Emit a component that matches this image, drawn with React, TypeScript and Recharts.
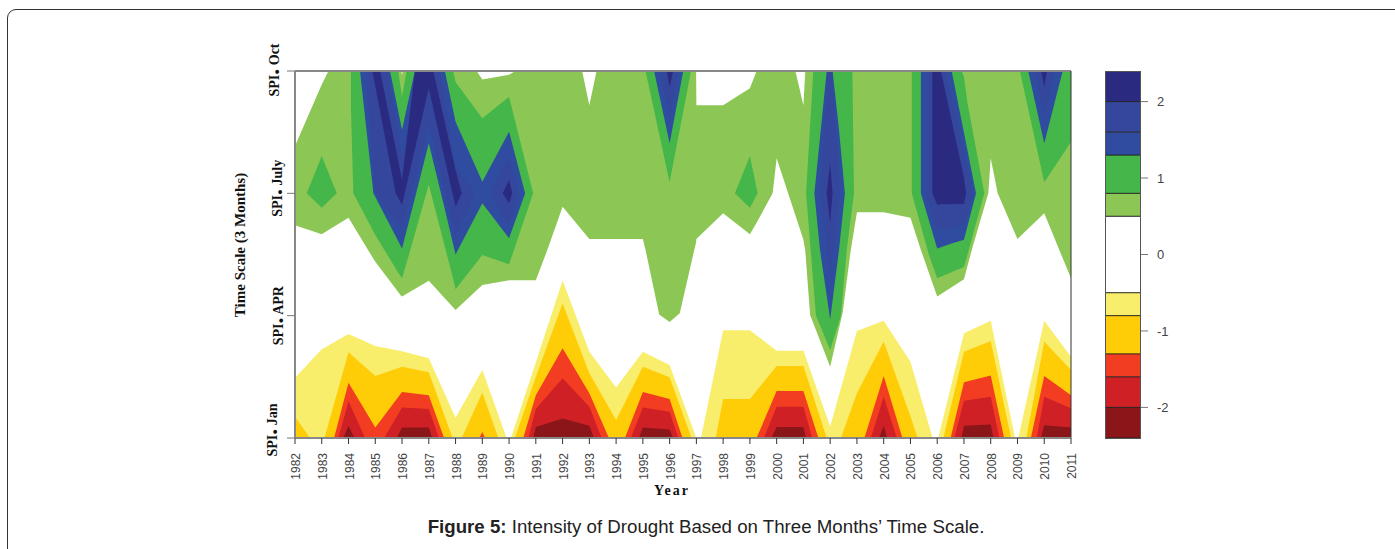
import { Area, AreaChart, Bar, BarChart, ReferenceLine, XAxis, YAxis } from 'recharts';

// x axis: years, y axis: season position (0 = Jan, 1 = Apr, 2 = July, 3 = Oct)
const years = [1982, 1983, 1984, 1985, 1986, 1987, 1988, 1989, 1990, 1991, 1992, 1993, 1994, 1995, 1996, 1997, 1998, 1999, 2000, 2001, 2002, 2003, 2004, 2005, 2006, 2007, 2008, 2009, 2010, 2011];
const seasonTicks = [0, 1, 2, 3];
const seasonNames = ['Jan', 'APR', 'July', 'Oct'];
const legendTicks = [-2, -1, 0, 1, 2];
const legendBreaks = [-2.4, -2, -1.6, -1.3, -0.8, -0.5, 0.5, 0.8, 1.3, 1.6, 2, 2.4];

// contour bands, [year, lower edge, upper edge]
const wetMild = [
  [1982, 1.74, 2.387], [1983, 1.665, 2.89], [1983.25, 1.7, 3], [1984, 1.8, 3], [1985, 1.44, 3], [1985.97, 1.16, 3], [1986, 1.156, 2.97], [1986.03, 1.16, 3],
  [1987, 1.286, 3], [1988, 1.046, 3], [1988.79, 1.207, 3], [1989, 1.25, 2.93], [1990, 1.29, 2.97], [1990.24, 1.29, 3], [1991, 1.29, 3], [1991.43, 1.537, 3],
  [1992, 1.89, 3], [1992.73, 1.698, 3], [1993, 1.627, 2.72], [1993.27, 1.627, 3], [1994, 1.627, 3], [1995, 1.627, 3], [1995.1, 1.537, 3], [1995.61, 1.01, 3],
  [1996, 0.948, 3], [1996.38, 1.019, 3], [1996.92, 1.537, 3], [1996.99, 1.6, 3], [1997, 1.627, 2.72], [1998, 1.837, 2.72], [1999, 1.665, 2.86], [1999.25, 1.76, 3],
  [1999.85, 2, 3], [2000, 2.286, 3], [2000.7, 1.82, 3], [2001, 1.62, 2.72], [2001.07, 1.53, 3], [2001.25, 1.006, 3], [2002, 0.583, 3], [2002.47, 1.03, 3],
  [2002.77, 1.537, 3], [2003, 1.845, 3], [2004, 1.845, 3], [2005, 1.8, 3], [2005.39, 1.537, 3], [2006, 1.156, 3], [2007, 1.297, 3], [2007.29, 1.537, 3],
  [2007.91, 2, 3], [2008, 2.286, 3], [2008.26, 2, 3], [2009, 1.627, 3], [2010, 1.837, 3], [2011, 1.305, 3],
];
const wetA = [
  [1984.09, 2.7, 3], [1984.18, 2, 3], [1985, 1.66, 3], [1985.86, 1.35, 3], [1986, 1.305, 2.79], [1986.17, 1.43, 3], [1987, 2.07, 3], [1987.91, 1.3, 3],
  [1988, 1.215, 2.91], [1989, 1.496, 2.613], [1990, 1.42, 2.79], [1990.9, 2, 2],
];
const wetB = [[1995.1, 3, 3], [1996, 2.09, 3], [1996.8, 3, 3]];
const wetC = [[1982.44, 2, 2], [1983, 1.883, 2.305], [1983.56, 2, 2]];
const wetD = [[1998.44, 2, 2], [1999, 1.883, 2.305], [1999.29, 2, 2]];
const wetE = [
  [2001.1, 2, 2], [2001.37, 1.27, 3], [2001.47, 1, 3], [2002, 0.72, 3], [2002.4, 1, 3], [2002.62, 1.537, 3], [2002.83, 1.9, 3], [2002.89, 2, 2],
];
const wetF = [
  [2005.05, 2, 3], [2005.69, 1.496, 3], [2006, 1.305, 3], [2006.91, 1.39, 3], [2007, 1.4, 2.95], [2007.13, 1.497, 2.74], [2007.76, 2, 2],
];
const wetG = [[2009.09, 3, 3], [2010, 2.09, 3], [2011, 2.42, 3]];

const veryWetA = [
  [1984.43, 3, 3], [1984.93, 2, 3], [1985.55, 1.74, 3], [1986, 1.55, 2.52], [1986.48, 1.96, 3], [1987, 2.41, 3], [1987.6, 1.87, 3], [1988, 1.5, 2.586],
  [1989, 1.918, 2.095], [1990, 1.632, 2.504], [1990.6, 2, 2],
];
const veryWetB = [[1995.42, 3, 3], [1996, 2.41, 3], [1996.51, 3, 3]];
const veryWetC = [
  [2001.41, 2, 2], [2001.62, 1.537, 2.456], [2001.87, 1.165, 3], [2002, 0.97, 3], [2002.09, 1.125, 3], [2002.33, 1.537, 2.52], [2002.55, 2, 2],
];
const veryWetD = [[2005.39, 2, 3], [2006, 1.55, 3], [2006.54, 1.59, 3], [2007, 1.62, 2.495], [2007.45, 2, 2]];
const veryWetE = [[2009.4, 3, 3], [2010, 2.41, 3], [2010.69, 3, 3]];

const severeA = [
  [1984.65, 3, 3], [1985, 2, 3], [1985.45, 1.87, 3], [1986, 1.72, 2.3], [1986.67, 2.28, 3], [1987, 2.56, 3], [1987.42, 2.18, 3], [1988, 1.66, 2.21], [1988.72, 2, 2],
];
const severeB = [[1989.29, 2, 2], [1990, 1.74, 2.3], [1990.34, 2, 2]];
const severeC = [[1995.64, 3, 3], [1996, 2.63, 3], [1996.32, 3, 3]];
const severeD = [[2001.65, 2, 2], [2001.9, 1.5, 3], [2002, 1.35, 3], [2002.07, 1.45, 3], [2002.35, 2, 2]];
const severeE = [[2005.6, 2, 3], [2006, 1.7, 3], [2006.3, 1.71, 3], [2007, 1.75, 2.33], [2007.35, 2, 2]];
const severeF = [[2009.65, 3, 3], [2010, 2.63, 3], [2010.4, 3, 3]];

const extremeA = [
  [1984.89, 3, 3], [1985.18, 2.67, 3], [1985.76, 2, 2.373], [1986, 1.905, 2.11], [1986.48, 2.36, 3], [1987, 2.858, 3], [1987.17, 2.69, 3], [1988, 1.89, 2.19], [1988.23, 2, 2],
];
const extremeB = [[1989.76, 2, 2], [1990, 1.918, 2.11], [1990.12, 2, 2]];
const extremeC = [[1995.9, 3, 3], [1996, 2.87, 3], [1996.13, 3, 3]];
const extremeD = [[2001.87, 2, 2], [2002, 1.755, 2.245], [2002.09, 2, 2]];
const extremeE = [[2005.82, 2, 3], [2006, 1.905, 3], [2006.14, 1.91, 3], [2007, 1.913, 2.13], [2007.08, 2, 2]];
const extremeF = [[2009.88, 3, 3], [2010, 2.87, 3], [2010.11, 3, 3]];

// drought bands, [year, upper edge] measured up from Jan
const dryMild = [
  [1982, 0.493], [1983, 0.725], [1984, 0.85], [1985, 0.752], [1986, 0.71], [1987, 0.651], [1988, 0.166], [1989, 0.556], [1989.91, 0], [1990.07, 0], [1991, 0.62],
  [1992, 1.287], [1993, 0.706], [1994, 0.412], [1995, 0.706], [1996, 0.597], [1997, 0], [1997.17, 0], [1998, 0.88], [1999, 0.88], [2000, 0.714], [2001, 0.714],
  [2002, 0.093], [2003, 0.875], [2004, 0.959], [2005, 0.624], [2005.83, 0], [2006.04, 0], [2007, 0.856], [2008, 0.959], [2008.91, 0], [2009.03, 0], [2010, 0.959], [2011, 0.665],
];
const dryModerate = [
  [1982, 0.174], [1982.56, 0], [1983.1, 0], [1984, 0.7], [1985, 0.507], [1986, 0.583], [1987, 0.537], [1987.89, 0], [1988.23, 0], [1989, 0.371], [1989.6, 0], [1990.22, 0],
  [1991, 0.5], [1992, 1.1], [1993, 0.53], [1994, 0.147], [1995, 0.583], [1996, 0.496], [1996.82, 0], [1997.72, 0], [1998, 0.319], [1999, 0.319], [2000, 0.589], [2001, 0.589],
  [2001.87, 0], [2002.4, 0], [2003, 0.366], [2004, 0.788], [2005, 0.177], [2005.27, 0], [2006.23, 0], [2007, 0.706], [2008, 0.793], [2008.76, 0], [2009.33, 0], [2010, 0.788], [2011, 0.556],
];
const drySevere = [
  [1983.46, 0], [1984, 0.452], [1985, 0.085], [1986, 0.376], [1987, 0.349], [1987.57, 0], [1988.89, 0], [1989, 0.05], [1989.1, 0], [1990.53, 0], [1991, 0.35],
  [1992, 0.733], [1993, 0.365], [1993.73, 0], [1994.33, 0], [1995, 0.376], [1996, 0.319], [1996.48, 0], [1999.25, 0], [2000, 0.384], [2001, 0.384],
  [2001.56, 0], [2003.28, 0], [2004, 0.507], [2004.7, 0], [2006.5, 0], [2007, 0.455], [2008, 0.51], [2008.5, 0], [2009.5, 0], [2010, 0.507], [2011, 0.35],
];
const dryVerySevere = [
  [1983.62, 0], [1984, 0.3], [1984.62, 0], [1985.33, 0], [1986, 0.25], [1987, 0.237], [1987.38, 0], [1990.72, 0], [1991, 0.237],
  [1992, 0.488], [1993, 0.256], [1993.46, 0], [1994.55, 0], [1995, 0.25], [1996, 0.215], [1996.32, 0], [1999.52, 0], [2000, 0.256], [2001, 0.256],
  [2001.33, 0], [2003.52, 0], [2004, 0.338], [2004.49, 0], [2006.64, 0], [2007, 0.305], [2008, 0.338], [2008.32, 0], [2009.72, 0], [2010, 0.338], [2011, 0.243],
];
const dryExtreme = [
  [1983.8, 0], [1984, 0.1], [1984.22, 0], [1985.8, 0], [1986, 0.085], [1987, 0.085], [1987.13, 0], [1990.9, 0], [1991, 0.09],
  [1992, 0.16], [1993, 0.1], [1993.17, 0], [1994.85, 0], [1995, 0.085], [1996, 0.07], [1996.12, 0], [1999.8, 0], [2000, 0.09], [2001, 0.09],
  [2001.1, 0], [2003.83, 0], [2004, 0.1], [2004.13, 0], [2006.9, 0], [2007, 0.1], [2008, 0.11], [2008.1, 0], [2009.87, 0], [2010, 0.105], [2011, 0.085],
];

// legend classes, width of each class going away from zero
const legendWet = [0.5, 0.3, 0.5, 0.3, 0.4, 0.4];
const legendDry = [-0.5, -0.3, -0.5, -0.3, -0.4, -0.4];

const WHITE = '#ffffff';
const wetColors = [WHITE, '#8cc756', '#45b649', '#2f4ca0', '#35479c', '#2a2b80'];
const dryColors = [WHITE, '#f9ee6b', '#ffcc08', '#f23d22', '#cf2026', '#8a1619'];

const wetRows = (pts: number[][]) => pts.map(([year, lo, hi]) => ({ year, band: [lo, hi] }));
const dryRows = (pts: number[][]) => pts.map(([year, hi]) => ({ year, band: [0, hi] }));

const bands = [
  { data: wetRows(wetMild), fill: wetColors[1] },
  ...[wetA, wetB, wetC, wetD, wetE, wetF, wetG].map((p) => ({ data: wetRows(p), fill: wetColors[2] })),
  ...[veryWetA, veryWetB, veryWetC, veryWetD, veryWetE].map((p) => ({ data: wetRows(p), fill: wetColors[3] })),
  ...[severeA, severeB, severeC, severeD, severeE, severeF].map((p) => ({ data: wetRows(p), fill: wetColors[4] })),
  ...[extremeA, extremeB, extremeC, extremeD, extremeE, extremeF].map((p) => ({ data: wetRows(p), fill: wetColors[5] })),
  { data: dryRows(dryMild), fill: dryColors[1] },
  { data: dryRows(dryModerate), fill: dryColors[2] },
  { data: dryRows(drySevere), fill: dryColors[3] },
  { data: dryRows(dryVerySevere), fill: dryColors[4] },
  { data: dryRows(dryExtreme), fill: dryColors[5] },
];

const legendRow: Record<string, number | string> = { name: 'SPI' };
legendWet.forEach((v, i) => { legendRow[`wet${i}`] = v; });
legendDry.forEach((v, i) => { legendRow[`dry${i}`] = v; });

const SERIF = '"Liberation Serif", serif';
const SANS = '"Liberation Sans", sans-serif';

// rotated year label under each tick
function YearTick({ x, y, payload }: any) {
  return (
    <text x={x + 5} y={y} transform={`rotate(-90 ${x + 5} ${y})`} textAnchor="end" fontFamily={SANS} fontSize={12} fill="#444">
      {payload.value}
    </text>
  );
}

// the labels sit unevenly in the original
const seasonShiftY = [-8, 0, -5, -1];
const seasonBaseX = [277, 283, 282, 279];

function SeasonTick({ y, payload }: any) {
  const i = payload.value;
  const bx = seasonBaseX[i];
  const by = y + seasonShiftY[i];
  return (
    <text x={bx} y={by} transform={`rotate(-90 ${bx} ${by})`} textAnchor="middle" fontFamily={SERIF} fontWeight="bold" fontSize={14} fill="#111">
      SPI<tspan fontSize={24}>.</tspan> {seasonNames[i]}
    </text>
  );
}

export default function App() {
  return (
    <div style={{ position: 'absolute', left: 0, top: 0, width: 1395, height: 549, overflow: 'hidden', background: '#fff' }}>
      <div style={{ position: 'absolute', left: 7, top: 9, width: 1450, height: 620, border: '1px solid #333', borderRadius: 9 }} />

      <div style={{ position: 'absolute', left: 0, top: 0 }}>
        <AreaChart width={1395} height={549} margin={{ top: 71, right: 324, bottom: 61, left: 235 }}>
          <XAxis
            dataKey="year"
            type="number"
            domain={[1982, 2011]}
            ticks={years}
            interval={0}
            height={50}
            tick={<YearTick />}
            tickSize={6}
            tickMargin={9}
            tickLine={{ stroke: '#333' }}
            axisLine={{ stroke: '#888', strokeWidth: 2 }}
          />
          <YAxis
            type="number"
            domain={[0, 3]}
            ticks={seasonTicks}
            width={60}
            tick={<SeasonTick />}
            tickSize={8}
            tickLine={{ stroke: '#777' }}
            axisLine={{ stroke: '#888', strokeWidth: 2 }}
          />
          {bands.map((b, i) => (
            <Area
              key={i}
              data={b.data}
              dataKey="band"
              type="linear"
              stroke="none"
              fill={b.fill}
              fillOpacity={1}
              dot={false}
              activeDot={false}
              isAnimationActive={false}
            />
          ))}
          <ReferenceLine y={3} stroke="#888" strokeWidth={2} />
          <ReferenceLine x={2011} stroke="#333" strokeWidth={1} />
        </AreaChart>
      </div>

      <div style={{ position: 'absolute', left: 1105, top: 71 }}>
        <BarChart
          width={100}
          height={367}
          data={[legendRow]}
          stackOffset="sign"
          barCategoryGap={0}
          margin={{ top: 0, right: 0, bottom: 0, left: 0 }}
        >
          <XAxis dataKey="name" hide />
          <YAxis
            orientation="right"
            type="number"
            domain={[-2.4, 2.4]}
            ticks={legendTicks}
            width={65}
            tickSize={8}
            tickMargin={9}
            tick={{ fontFamily: SANS, fontSize: 13, fill: '#444' }}
            tickLine={{ stroke: '#777' }}
            axisLine={false}
          />
          {legendWet.map((_, i) => (
            <Bar key={`w${i}`} dataKey={`wet${i}`} stackId="spi" fill={wetColors[i]} isAnimationActive={false} />
          ))}
          {legendDry.map((_, i) => (
            <Bar key={`d${i}`} dataKey={`dry${i}`} stackId="spi" fill={dryColors[i]} isAnimationActive={false} />
          ))}
          {legendBreaks.map((b) => (
            <ReferenceLine key={b} y={b} stroke="#222" strokeWidth={1} />
          ))}
        </BarChart>
      </div>
      <div style={{ position: 'absolute', left: 1105, top: 71, width: 34, height: 366, border: '1px solid #555' }} />

      <div style={{ position: 'absolute', left: 240, top: 244.5, transform: 'translate(-50%, -50%) rotate(-90deg)', fontFamily: SERIF, fontWeight: 'bold', fontSize: 15, color: '#111', whiteSpace: 'nowrap' }}>
        Time Scale (3 Months)
      </div>
      <div style={{ position: 'absolute', left: 672, top: 491, transform: 'translate(-50%, -50%)', fontFamily: SERIF, fontWeight: 'bold', fontSize: 14, letterSpacing: 2, color: '#111' }}>
        Year
      </div>
      <div style={{ position: 'absolute', left: 706, top: 527, transform: 'translate(-50%, -50%)', fontFamily: SANS, fontSize: 18.7, color: '#222', whiteSpace: 'nowrap' }}>
        <b>Figure 5:</b> Intensity of Drought Based on Three Months’ Time Scale.
      </div>
    </div>
  );
}
